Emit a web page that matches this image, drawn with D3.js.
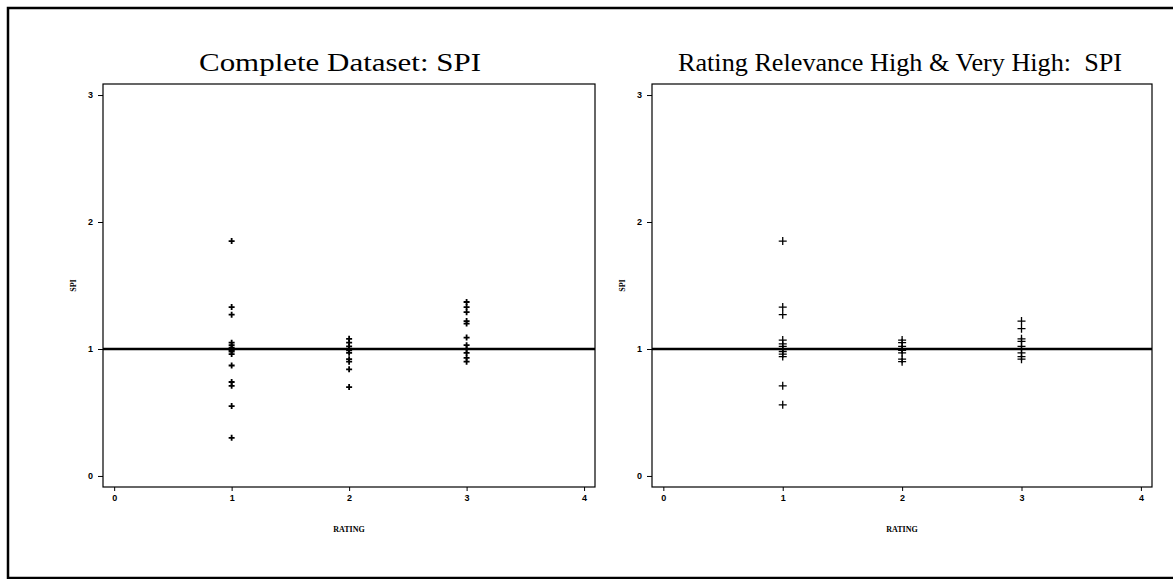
<!DOCTYPE html>
<html>
<head>
<meta charset="utf-8">
<script src="https://cdn.jsdelivr.net/npm/d3@7"></script>
<style>
  body { margin: 0; background: #fff; }
  svg { display: block; }
  .tick text { font-family: "Liberation Sans", Arial, sans-serif; font-weight: bold; font-size: 9px; }
</style>
</head>
<body>
<div id="chart"></div>
<script>
// rating categories and tick values
var ratingTicks = [0, 1, 2, 3, 4];
var spiTicks = [0, 1, 2, 3];
var refValue = 1;

// Complete dataset SPI values per rating
var completeRating1 = [1.85, 1.33, 1.27, 1.05, 1.03, 1.01, 1.0, 0.99, 0.98, 0.96, 0.87, 0.74, 0.71, 0.55, 0.30];
var completeRating2 = [1.08, 1.05, 1.02, 1.0, 0.99, 0.97, 0.92, 0.9, 0.84, 0.70];
var completeRating3 = [1.37, 1.33, 1.29, 1.22, 1.2, 1.09, 1.03, 1.0, 0.97, 0.93, 0.9];

// Relevance high & very high SPI values per rating
var highRating1 = [1.85, 1.33, 1.27, 1.07, 1.04, 1.02, 1.0, 0.98, 0.96, 0.94, 0.71, 0.56];
var highRating2 = [1.07, 1.05, 1.02, 1.0, 0.99, 0.97, 0.92, 0.9];
var highRating3 = [1.22, 1.16, 1.08, 1.06, 1.02, 1.0, 0.97, 0.94, 0.92];

var titles = ['Complete Dataset: SPI', 'Rating Relevance High & Very High:  SPI'];

function toPoints(groups) {
  var pts = [];
  groups.forEach(function (vals, i) {
    vals.forEach(function (v) { pts.push({ rating: i + 1, spi: v }); });
  });
  return pts;
}

var W = 1173, H = 579;
var svg = d3.select('#chart').append('svg').attr('width', W).attr('height', H);

// outer border (right side runs off the page)
svg.append('rect')
  .attr('x', 8).attr('y', 8).attr('width', 1180).attr('height', 570)
  .attr('fill', 'none').attr('stroke', '#000').attr('stroke-width', 2.5);

var panels = [
  { left: 103, right: 595, title: titles[0], tx: 340, tlen: 282, data: toPoints([completeRating1, completeRating2, completeRating3]), size: 3, sw: 1.8 },
  { left: 652, right: 1152, title: titles[1], tx: 900, tlen: 444, data: toPoints([highRating1, highRating2, highRating3]), size: 4, sw: 1.3 }
];

var plotTop = 84, plotBottom = 487;

panels.forEach(function (p) {
  var g = svg.append('g');
  var x = d3.scaleLinear().domain([-0.095, 4.093]).range([p.left, p.right]);
  var y = d3.scaleLinear().domain([-0.087, 3.087]).range([plotBottom, plotTop]);

  g.append('text')
    .attr('x', p.tx).attr('y', 71)
    .attr('text-anchor', 'middle')
    .attr('textLength', p.tlen).attr('lengthAdjust', 'spacingAndGlyphs')
    .style('white-space', 'pre')
    .style('font-family', '"Liberation Serif", "Times New Roman", serif')
    .style('font-size', '26px')
    .text(p.title);

  // frame
  g.append('rect')
    .attr('x', p.left).attr('y', plotTop)
    .attr('width', p.right - p.left).attr('height', plotBottom - plotTop)
    .attr('fill', 'none').attr('stroke', '#000').attr('stroke-width', 1.2);

  var xAxis = d3.axisBottom(x).tickValues(ratingTicks).tickFormat(d3.format('d')).tickSize(4).tickSizeOuter(0);
  var gx = g.append('g').attr('transform', 'translate(0,' + plotBottom + ')').call(xAxis);
  gx.select('.domain').remove();
  gx.selectAll('.tick text').attr('dy', '0.8em');

  var yAxis = d3.axisLeft(y).tickValues(spiTicks).tickFormat(d3.format('d')).tickSize(5).tickSizeOuter(0);
  var gy = g.append('g').attr('transform', 'translate(' + p.left + ',0)').call(yAxis);
  gy.select('.domain').remove();
  gy.selectAll('.tick text').attr('x', -10);

  // axis labels
  g.append('text')
    .attr('x', (p.left + p.right) / 2).attr('y', 532)
    .attr('text-anchor', 'middle')
    .style('font-family', '"Liberation Serif", serif').style('font-weight', 'bold').style('font-size', '8px')
    .text('RATING');
  g.append('text')
    .attr('transform', 'translate(' + (p.left - 27) + ',' + (plotTop + plotBottom) / 2 + ') rotate(-90)')
    .attr('text-anchor', 'middle')
    .style('font-family', '"Liberation Serif", serif').style('font-weight', 'bold').style('font-size', '8px')
    .text('SPI');

  // reference line at SPI = 1
  g.append('line')
    .attr('x1', p.left).attr('x2', p.right)
    .attr('y1', y(refValue)).attr('y2', y(refValue))
    .attr('stroke', '#000').attr('stroke-width', 2.6);

  // plus markers
  g.selectAll('.pt').data(p.data).enter().append('path')
    .attr('class', 'pt')
    .attr('d', function (d) {
      var cx = x(d.rating), cy = y(d.spi), s = p.size;
      return 'M' + (cx - s) + ',' + cy + 'H' + (cx + s) + 'M' + cx + ',' + (cy - s) + 'V' + (cy + s);
    })
    .attr('stroke', '#000').attr('stroke-width', p.sw).attr('fill', 'none');
});
</script>
</body>
</html>
